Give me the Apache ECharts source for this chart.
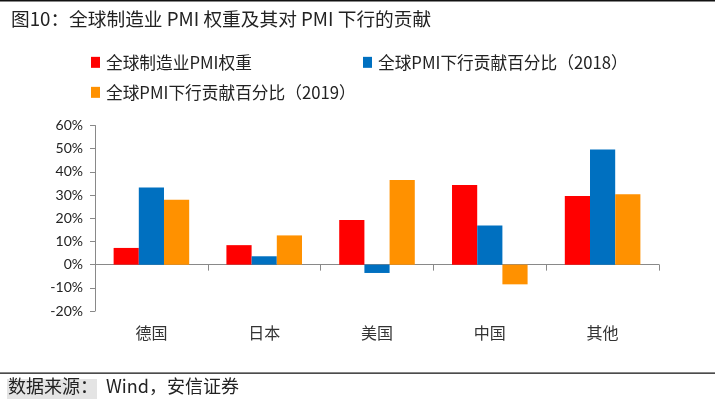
<!DOCTYPE html>
<html><head><meta charset="utf-8">
<script src="https://cdn.jsdelivr.net/npm/echarts@6/dist/echarts.min.js"></script>
<style>html,body{margin:0;padding:0;background:#fff;}#c{width:715px;height:403px;}</style>
</head><body><div id="c"></div>
<script>
const categories = ['德国', '日本', '美国', '中国', '其他'];
const seriesNames = ['全球制造业PMI权重', '全球PMI下行贡献百分比（2018）', '全球PMI下行贡献百分比（2019）'];
const weight = [7.2, 8.4, 19.2, 34.3, 29.6];
const contrib2018 = [33.3, 3.6, -3.6, 16.9, 49.7];
const contrib2019 = [28.0, 12.6, 36.5, -8.5, 30.4];
const yTicks = [-20, -10, 0, 10, 20, 30, 40, 50, 60];
const colors = ['#FF0000', '#0070C0', '#FF9100'];

const chart = echarts.init(document.getElementById('c'));
const cjk = '"Noto Sans CJK SC", sans-serif';
const legendBase = {
  itemWidth: 9, itemHeight: 11, itemGap: 4, icon: 'rect',
  textStyle: {fontFamily: cjk, fontSize: 16.7, color: '#222', padding: [0, 0, 0, 1]}
};
chart.setOption({
  backgroundColor: '#fff',
  animation: false,
  color: colors,
  title: {
    text: '图10：全球制造业 PMI 权重及其对 PMI 下行的贡献',
    left: 6, top: 5,
    textStyle: {fontFamily: cjk, fontSize: 18.7, fontWeight: 'normal', color: '#222'}
  },
  legend: [
    Object.assign({}, legendBase, {data: [seriesNames[0]], left: 86, top: 49}),
    Object.assign({}, legendBase, {data: [seriesNames[1]], left: 358, top: 49}),
    Object.assign({}, legendBase, {data: [seriesNames[2]], left: 86, top: 79})
  ],
  grid: {left: 95, right: 56, top: 125.5, bottom: 92, containLabel: false},
  xAxis: {
    type: 'category', data: categories,
    axisLine: {onZero: true, lineStyle: {color: '#898989', width: 1}},
    axisTick: {show: true, length: 6, lineStyle: {color: '#898989'}},
    axisLabel: {margin: 14, fontFamily: cjk, fontSize: 16, color: '#333'}
  },
  yAxis: {
    type: 'value', min: yTicks[0], max: yTicks[yTicks.length - 1], interval: 10,
    splitLine: {show: false},
    axisLine: {show: true, lineStyle: {color: '#898989'}},
    axisTick: {show: true, length: 5, lineStyle: {color: '#898989'}},
    axisLabel: {formatter: '{value}%', margin: 12, fontFamily: 'Lato, "Open Sans", sans-serif', fontSize: 14, color: '#222'}
  },
  series: [
    {name: seriesNames[0], type: 'bar', data: weight, barGap: '0%', barCategoryGap: '33%'},
    {name: seriesNames[1], type: 'bar', data: contrib2018, barGap: '0%', barCategoryGap: '33%'},
    {name: seriesNames[2], type: 'bar', data: contrib2019, barGap: '0%', barCategoryGap: '33%'}
  ],
  graphic: [
    {type: 'rect', shape: {x: 0, y: 0, width: 715, height: 1.5}, style: {fill: '#111'}},
    {type: 'rect', shape: {x: 0, y: 372.5, width: 715, height: 1.2}, style: {fill: '#111'}},
    {type: 'rect', shape: {x: 7, y: 379, width: 90, height: 20}, style: {fill: '#e4e4e4'}},
    {type: 'text', left: 8, top: 377, style: {text: '数据来源：  Wind，安信证券', fontFamily: cjk, fontSize: 18, fill: '#222'}}
  ]
});
</script></body></html>
